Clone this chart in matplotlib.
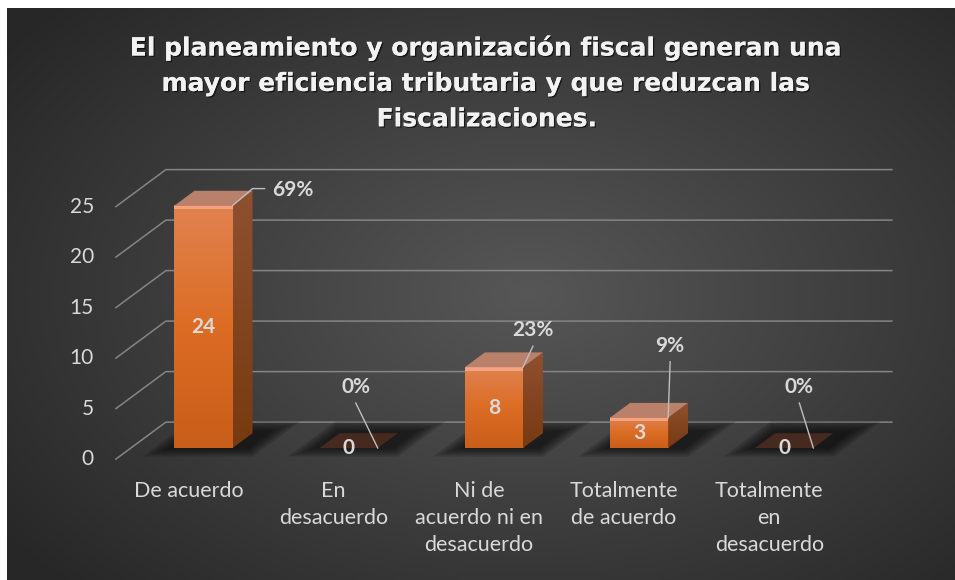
import numpy as np
import matplotlib.pyplot as plt
import matplotlib.patheffects as pe
from matplotlib.patches import Polygon
from matplotlib.colors import LinearSegmentedColormap

# datos del grafico
categorias = ["De acuerdo", "En\ndesacuerdo", "Ni de\nacuerdo ni en\ndesacuerdo",
              "Totalmente\nde acuerdo", "Totalmente\nen\ndesacuerdo"]
valores = [24, 0, 8, 3, 0]
ticks_y = [0, 5, 10, 15, 20, 25]
titulo = ("El planeamiento y organización fiscal generan una\n"
          "mayor eficiencia tributaria y que reduzcan las\n"
          "Fiscalizaciones.")

total = sum(valores)
porcentajes = [f"{round(v / total * 100)}%" for v in valores]

# desplazamiento de las etiquetas de % (px respecto a la esquina del bar)
desp_pct = [(60, -16), (-22, -61), (10, -37), (2, -72), (-14, -61)]

plt.rcParams['font.family'] = ['Lato', 'DejaVu Sans']
gris_txt = '#d9d9d9'

W, H = 955, 580
fig = plt.figure(figsize=(W / 100, H / 100), dpi=100)
fig.patch.set_facecolor('white')

# fondo con degradado radial
bg = fig.add_axes([7 / W, 0, 1 - 7 / W, 1 - 8 / H])
yy, xx = np.mgrid[0:1:300j, 0:1:500j]
r = np.sqrt(((xx - 0.55) / 0.7) ** 2 + ((yy - 0.5) / 0.75) ** 2)
shade = np.clip(0.34 - 0.19 * r, 0.155, 0.34)
bg.imshow(np.dstack([shade] * 3), extent=[0, 1, 0, 1], aspect='auto')
bg.axis('off')

# ejes: x = categoria, y = valor
cat_px, unit_px = 145.2, 10.1
x0_px, y0_px = 203.5, 448
ax = fig.add_axes([0, 0, 1, 1])
DX, DY = 50 / cat_px, 37 / unit_px   # vector de profundidad
T_BAR = 0.3


def P(x, v, t):
    return (x + (t - T_BAR) * DX, v + (t - T_BAR) * DY)


x_izq, x_der = -0.5, len(valores) - 0.5

# lineas de cuadricula (pared lateral + pared del fondo)
for v in ticks_y:
    pts = [P(x_izq, v, 0), P(x_izq, v, 1), P(x_der, v, 1)]
    ax.plot(*zip(*pts), color='#858585', lw=1.1, zorder=1)
    xt, yt = P(x_izq, v, 0)
    ax.text(xt - 22 / cat_px, yt, str(v), ha='right', va='center',
            color=gris_txt, fontsize=15)

cmap_front = LinearSegmentedColormap.from_list('f', ['#c95e1a', '#dc6c24', '#e08250'])
cmap_side = LinearSegmentedColormap.from_list('s', ['#773a10', '#8f5030'])
grad = np.linspace(0, 1, 100).reshape(-1, 1)[::-1]

half = 0.2
t0, t1 = 0.3, 0.7
for i, v in enumerate(valores):
    # sombra difusa en el piso
    for k in range(5):
        e = 0.025 * k
        sh = [P(i - half - 0.04 - e, 0, t0 - 0.03 - 0.05 * k),
              P(i + half + 0.12 + e, 0, t0 - 0.03 - 0.05 * k),
              P(i + half + 0.12 + e, 0, t1 + 0.08 + 0.06 * k),
              P(i - half - 0.04 - e, 0, t1 + 0.08 + 0.06 * k)]
        ax.add_patch(Polygon(sh, closed=True, facecolor='black', edgecolor='none',
                             alpha=0.15, zorder=2))
    if v > 0:
        # cara frontal
        ax.imshow(grad, extent=[i - half, i + half, 0, v], aspect='auto',
                  cmap=cmap_front, zorder=4)
        ax.add_patch(Polygon([(i - half, v - 0.35), (i + half, v - 0.35),
                              (i + half, v), (i - half, v)],
                             facecolor='#f2a382', edgecolor='none', zorder=5))
        # cara lateral
        lado = Polygon([P(i + half, 0, t0), P(i + half, 0, t1),
                        P(i + half, v, t1), P(i + half, v, t0)],
                       facecolor='none', edgecolor='none', zorder=4)
        ax.add_patch(lado)
        xa, ya = P(i + half, 0, t1)
        im = ax.imshow(grad, extent=[i + half, xa, 0, v + ya], aspect='auto',
                       cmap=cmap_side, zorder=4)
        im.set_clip_path(lado)
        # cara superior
        ax.add_patch(Polygon([P(i - half, v, t0), P(i + half, v, t0),
                              P(i + half, v, t1), P(i - half, v, t1)],
                             facecolor='#b9806a', edgecolor='none', zorder=5))
        ax.text(i, v / 2, str(v), ha='center', va='center', color=gris_txt,
                fontsize=15, fontweight='bold', zorder=6)
    else:
        ax.add_patch(Polygon([P(i - half, 0, t0), P(i + half, 0, t0),
                              P(i + half, 0, t1), P(i - half, 0, t1)],
                             facecolor='#46291f', edgecolor='none', zorder=5))
        ax.text(i, 0, str(v), ha='center', va='center', color=gris_txt,
                fontsize=15, fontweight='bold', zorder=6)

    # etiqueta de porcentaje con linea guia
    ax_, ay_ = i + half, v
    ox, oy = desp_pct[i]
    lx, ly = ax_ + ox / cat_px, ay_ - oy / unit_px
    if ox > 30:
        guia = [(ax_, ay_), (ax_ + 20 / cat_px, ay_ + 17 / unit_px),
                (ax_ + 32 / cat_px, ay_ + 17 / unit_px)]
    else:
        guia = [(lx, ly - 16 / unit_px), (ax_, ay_)]
    ax.plot(*zip(*guia), color='#bfbfbf', lw=1.0, zorder=7)
    ax.text(lx, ly, porcentajes[i], ha='center', va='center', color=gris_txt,
            fontsize=15, fontweight='bold', zorder=7)

    # etiqueta de categoria
    xc, yc = P(i, 0, 0)
    ax.text(xc, yc - 22 / unit_px, categorias[i], ha='center', va='top',
            color=gris_txt, fontsize=15.5, linespacing=1.42)

ax.set_xlim(-x0_px / cat_px, (W - x0_px) / cat_px)
ax.set_ylim((y0_px - H) / unit_px, y0_px / unit_px)
ax.axis('off')

fig.text(487 / W, 1 - 35 / H, titulo, ha='center', va='top', color='#f2f2f2',
         fontsize=18, fontweight='bold', family=['DejaVu Sans'], linespacing=1.6,
         path_effects=[pe.withSimplePatchShadow(offset=(1, -1), shadow_rgbFace='black', alpha=0.6),
                       pe.Normal()])

fig.savefig('out.png', dpi=100, facecolor='white')
